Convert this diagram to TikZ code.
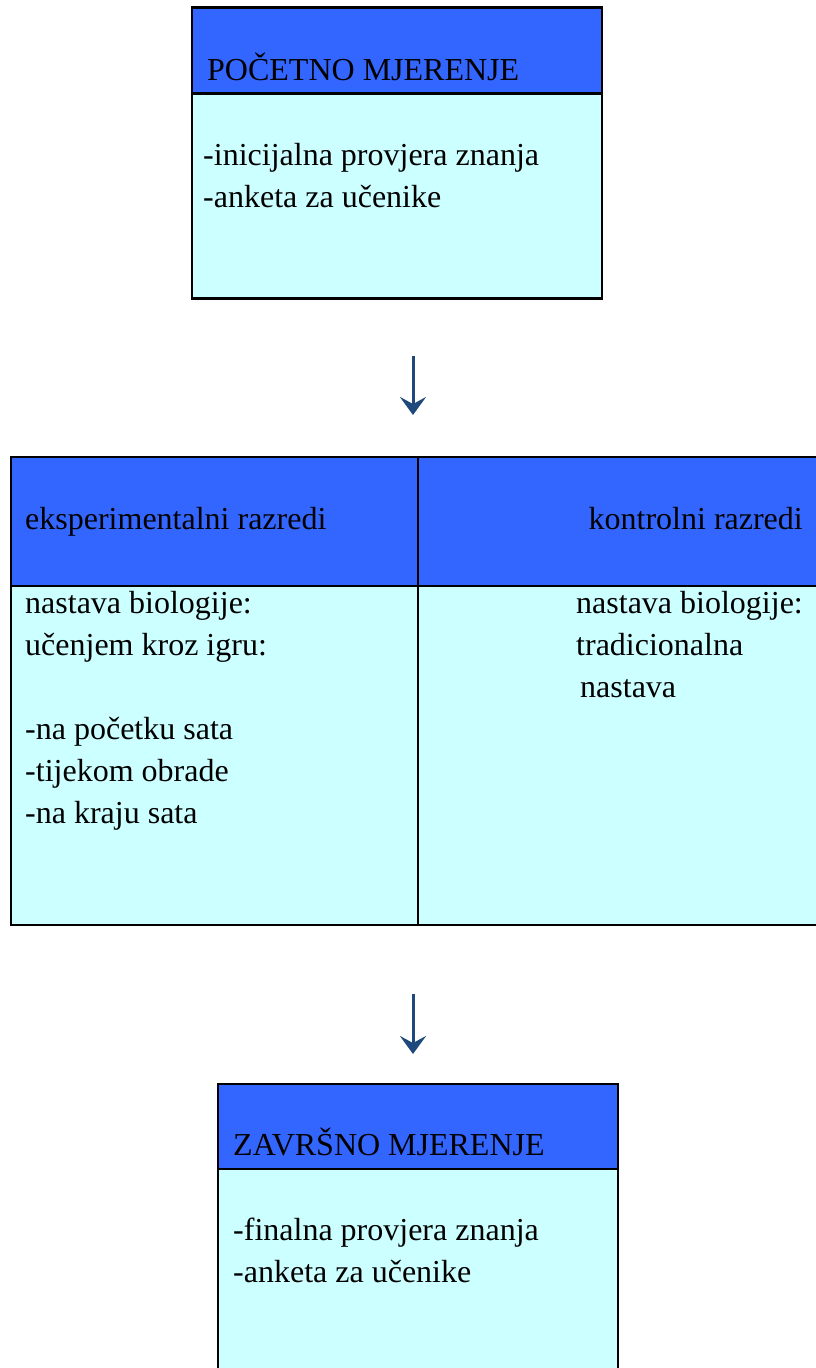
\documentclass[tikz,border=0pt]{standalone}
\usepackage{fontspec}
\setmainfont{Liberation Serif}
\usetikzlibrary{positioning,arrows.meta}

\definecolor{headblue}{RGB}{51,102,255}
\definecolor{bodycyan}{RGB}{204,255,255}
\definecolor{arrowblue}{RGB}{31,73,125}

\newcommand{\lines}[1]{\begin{tabular}[t]{@{}l@{}}#1\end{tabular}}

\tikzset{
  cell/.style={draw, line width=2.5pt, inner sep=0pt, outer sep=0pt, anchor=north west},
  head/.style={cell, fill=headblue},
  body/.style={cell, fill=bodycyan},
  txt/.style={anchor=base west, inner sep=0pt,
    font=\fontsize{32}{42}\selectfont},
  flow/.style={arrowblue, line width=3pt,
    -{Stealth[length=18pt, width=26pt, inset=7pt]}}
}

\begin{document}
\begin{tikzpicture}[x=1pt, y=-1pt]
    \clip (0,0) rectangle (816,1368);
    \fill[white] (0,0) rectangle (816,1368);

    % pocetno mjerenje
    \node[head, minimum width=410pt, minimum height=86pt] (starthead) at (192,7.5) {};
    \node[body, minimum width=410pt, minimum height=205pt] (startbody) at (starthead.south west) {};
    \node[txt] (starttitle) at ([xshift=15pt, yshift=13pt]starthead.south west) {POČETNO MJERENJE};
    \node[txt] (starttext) at ([xshift=11pt, yshift=-72pt]startbody.north west)
      {\lines{-inicijalna provjera znanja\\-anketa za učenike}};

    % razredi
    \node[head, minimum width=407pt, minimum height=129pt] (exphead) at (11,457) {};
    \node[head, minimum width=420pt, minimum height=129pt] (ctrlhead) at (exphead.north east) {};
    \node[body, minimum width=407pt, minimum height=339pt] (expbody) at (exphead.south west) {};
    \node[body, minimum width=420pt, minimum height=339pt] (ctrlbody) at (ctrlhead.south west) {};
    \node[txt] (exptitle) at ([xshift=14pt, yshift=57pt]exphead.south west) {eksperimentalni razredi};
    \node[txt, anchor=base east] (ctrltitle) at (803,529) {kontrolni razredi};
    \node[txt] (exptext) at ([xshift=14pt, yshift=-27pt]expbody.north west)
      {\lines{nastava biologije:\\učenjem kroz igru:\\\\-na početku sata\\-tijekom obrade\\-na kraju sata}};
    \node[txt] (ctrltext) at ([xshift=158pt, yshift=-27pt]ctrlbody.north west)
      {\lines{nastava biologije:\\tradicionalna\\\hspace*{4pt}nastava}};

    % zavrsno mjerenje
    \node[head, minimum width=400pt, minimum height=85pt] (endhead) at (218,1084) {};
    \node[body, minimum width=400pt, minimum height=260pt] (endbody) at (endhead.south west) {};
    \node[txt] (endtitle) at ([xshift=15pt, yshift=14pt]endhead.south west) {ZAVRŠNO MJERENJE};
    \node[txt] (endtext) at ([xshift=15pt, yshift=-71pt]endbody.north west)
      {\lines{-finalna provjera znanja\\-anketa za učenike}};

    % strelice
    \coordinate (arrowatop) at (413,356);
    \coordinate (arrowabot) at (413,415);
    \coordinate (arrowbtop) at (413,994);
    \coordinate (arrowbbot) at (413,1054);
    \draw[flow] (arrowatop) -- (arrowabot);
    \draw[flow] (arrowbtop) -- (arrowbbot);
\end{tikzpicture}
\end{document}
